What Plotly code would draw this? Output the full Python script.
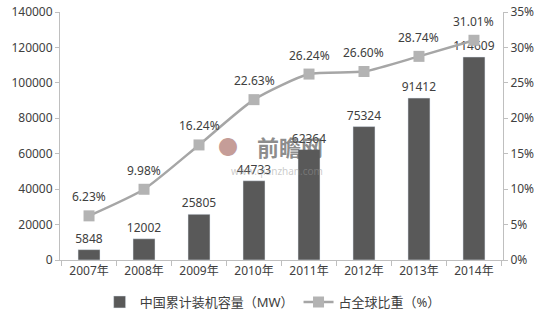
import plotly.graph_objects as go

years = ["2007年", "2008年", "2009年", "2010年", "2011年", "2012年", "2013年", "2014年"]
capacity = [5848, 12002, 25805, 44733, 62364, 75324, 91412, 114609]
share = [0.0623, 0.0998, 0.1624, 0.2263, 0.2624, 0.2660, 0.2874, 0.3101]
share_labels = ["6.23%", "9.98%", "16.24%", "22.63%", "26.24%", "26.60%", "28.74%", "31.01%"]

font_family = "Noto Sans, Noto Sans CJK SC, sans-serif"
axis_col = "#bfbfbf"
text_col = "#404040"

fig = go.Figure()
fig.add_trace(go.Bar(
    x=years, y=capacity, name="中国累计装机容量（MW）",
    marker=dict(color="#595959"), width=0.4,
    text=[str(v) for v in capacity], textposition="outside", constraintext="none",
    textfont=dict(size=12, color=text_col), cliponaxis=False,
))
fig.add_trace(go.Scatter(
    x=years, y=share, name="占全球比重（%）", yaxis="y2",
    mode="lines+markers",
    line=dict(color="#a6a6a6", width=2.5, shape="spline", smoothing=0.6),
    marker=dict(symbol="square", size=11, color="#b3b3b3"),
    cliponaxis=False,
))
for xv, yv, lab in zip(years, share, share_labels):
    fig.add_annotation(x=xv, y=yv, xref="x", yref="y2", text=lab, showarrow=False,
                       yshift=19, font=dict(size=12, color=text_col))

fig.update_layout(
    width=543, height=317,
    margin=dict(l=60, r=40, t=12, b=57, autoexpand=False),
    paper_bgcolor="white", plot_bgcolor="white",
    font=dict(family=font_family, size=12, color=text_col),
    showlegend=True,
    legend=dict(orientation="h", x=0.48, xanchor="center", yref="container", y=0.0,
                yanchor="bottom", font=dict(size=13, color=text_col)),
    xaxis=dict(type="category", showline=True, linecolor=axis_col, linewidth=1,
               ticks="outside", tickson="boundaries", ticklen=5, tickcolor=axis_col,
               showgrid=False, tickfont=dict(size=12, color=text_col)),
    yaxis=dict(range=[0, 140000], dtick=20000, tickformat="d", showline=True,
               linecolor=axis_col, ticks="outside", ticklen=4, tickcolor=axis_col,
               showgrid=False, zeroline=False, tickfont=dict(size=12, color=text_col)),
    yaxis2=dict(range=[0, 0.35], dtick=0.05, tickformat=".0%", overlaying="y",
                side="right", showline=True, linecolor=axis_col, ticks="outside",
                ticklen=4, tickcolor=axis_col, showgrid=False, zeroline=False,
                tickfont=dict(size=12, color=text_col)),
)

# watermark
fig.add_annotation(xref="paper", yref="paper", x=0.38, y=0.455, text="●",
                   showarrow=False, font=dict(size=20, color="rgba(140,60,50,0.5)"),
                   xanchor="center")
fig.add_annotation(xref="paper", yref="paper", x=0.52, y=0.455, text="<b>前瞻网</b>",
                   showarrow=False, font=dict(size=22, color="rgba(90,90,90,0.7)"),
                   xanchor="center")
fig.add_annotation(xref="paper", yref="paper", x=0.49, y=0.36, text="www.qianzhan.com",
                   showarrow=False, font=dict(size=10, color="rgba(150,150,150,0.5)"),
                   xanchor="center")

fig.write_html("out.html")
